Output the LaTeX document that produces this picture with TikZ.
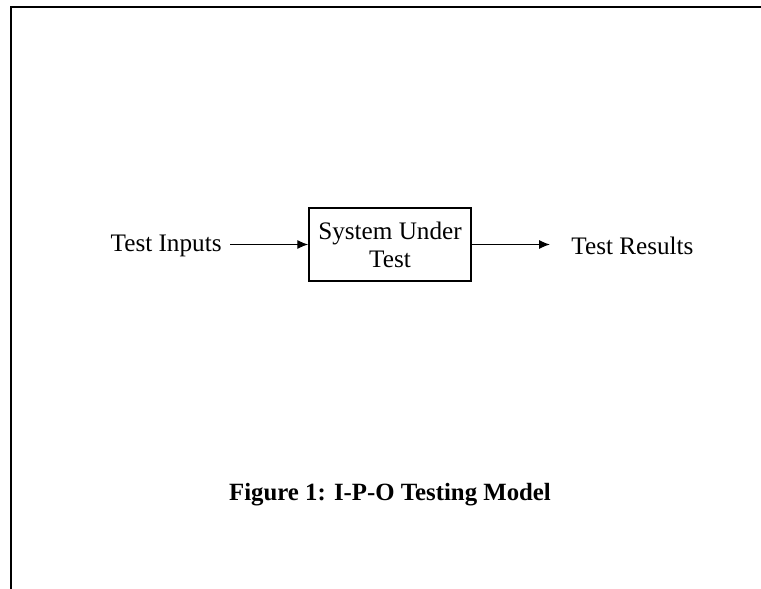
\documentclass[tikz,border=0pt]{standalone}
\usepackage{fontspec}
\setmainfont{Liberation Serif}
\usetikzlibrary{arrows.meta, positioning}
\definecolor{framecolor}{RGB}{0,0,0}

\begin{document}
\begin{tikzpicture}[
    x=0.5pt, y=-0.5pt,
    font=\fontsize{12.6}{14}\selectfont,
    label/.style={inner sep=4pt},
    sutbox/.style={draw, line width=0.75pt, minimum width=81pt, minimum height=36.5pt, align=center, inner sep=2pt},
    flow/.style={-{Latex[length=5.5pt, width=4.6pt]}, line width=0.7pt}
]
    \useasboundingbox (0,0) rectangle (761,589);
    \draw[framecolor, line width=1.25pt] (11,589) -- (11,7) -- (761,7);

    \node[sutbox] (sut) at (390,244.5) {System Under\\Test};
    \node[label, anchor=east] (inputs) at (230,246) {Test Inputs};
    \node[label, anchor=west] (results) at (563,246) {Test Results};

    \draw[flow] (inputs.east |- sut.west) -- (sut.west);
    \draw[flow, shorten >=6.5pt] (sut.east) -- (results.west |- sut.east);

    \node[font=\fontsize{12.4}{14}\selectfont\bfseries] (caption) at (390,495) {Figure 1: I-P-O Testing Model};
\end{tikzpicture}
\end{document}
